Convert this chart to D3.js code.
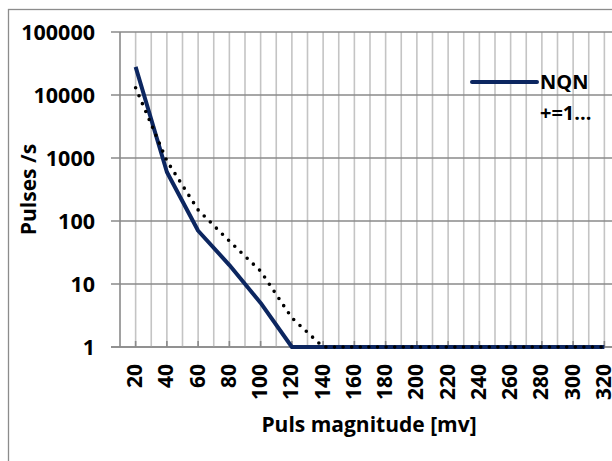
<!DOCTYPE html>
<html>
<head>
<meta charset="utf-8">
<script src="https://cdn.jsdelivr.net/npm/d3@7"></script>
<style>
  html, body { margin: 0; padding: 0; background: #fff; }
  svg { display: block; }
  text { font-family: "Open Sans", "Liberation Sans", sans-serif; font-weight: bold; fill: #000; }
</style>
</head>
<body>
<svg id="chart" width="612" height="461"></svg>
<script>
// Pulse-height spectrum: pulse rate per magnitude bin
const magnitudes = [20, 40, 60, 80, 100, 120, 140, 160, 180, 200, 220, 240, 260, 280, 300, 320];
const nqnRates   = [28000, 600, 70, 20, 5, 1, 1, 1, 1, 1, 1, 1, 1, 1, 1, 1];
const fitRates   = [13000, 900, 150, 48, 16, 2.9, 1, 1, 1, 1, 1, 1, 1, 1, 1, 1];
const yTicks     = [1, 10, 100, 1000, 10000, 100000];
const legendLines = ["NQN", "+=1..."];

const svg = d3.select("#chart");
const plot = { left: 120, right: 620, top: 32, bottom: 347 };

// chart frame (only the left and top edges fall inside the page)
svg.append("rect")
  .attr("x", 8.5).attr("y", 9.5)
  .attr("width", 640).attr("height", 480)
  .attr("fill", "none").attr("stroke", "#8c8c8c").attr("stroke-width", 1.3);

const x = d3.scaleBand().domain(magnitudes).range([plot.left, plot.right]).padding(0);
const cx = d => x(d) + x.bandwidth() / 2;
const y = d3.scaleLog().domain([1, 100000]).range([plot.bottom, plot.top]);

// vertical gridlines at category boundaries and centres
const vLines = [];
magnitudes.forEach(m => { vLines.push(x(m)); vLines.push(cx(m)); });
svg.append("g").selectAll("line").data(vLines.filter(v => v > plot.left)).join("line")
  .attr("x1", d => d).attr("x2", d => d)
  .attr("y1", plot.top).attr("y2", plot.bottom)
  .attr("stroke", "#c4c4c4").attr("stroke-width", 1.6);

// horizontal gridlines per decade (extend left as tick marks)
svg.append("g").selectAll("line").data(yTicks).join("line")
  .attr("x1", plot.left - 9).attr("x2", plot.right)
  .attr("y1", d => y(d)).attr("y2", d => y(d))
  .attr("stroke", "#8a8a8a").attr("stroke-width", 1.6);

// value axis line
svg.append("line")
  .attr("x1", plot.left).attr("x2", plot.left)
  .attr("y1", plot.top).attr("y2", plot.bottom)
  .attr("stroke", "#8a8a8a").attr("stroke-width", 1.6);

// category tick marks (inside, at centres)
svg.append("g").selectAll("line").data(magnitudes).join("line")
  .attr("x1", d => cx(d)).attr("x2", d => cx(d))
  .attr("y1", plot.bottom - 6).attr("y2", plot.bottom)
  .attr("stroke", "#8a8a8a").attr("stroke-width", 1.6);

// y tick labels
const yAxis = d3.axisLeft(y).tickValues(yTicks).tickFormat(d3.format("d")).tickSize(0).tickPadding(0);
const yg = svg.append("g").attr("transform", `translate(${plot.left - 25},0)`).call(yAxis);
yg.select(".domain").remove();
yg.selectAll("text")
  .attr("font-size", 21.5).attr("font-family", null).attr("fill", "#000")
  .attr("dy", "0.36em");

// x tick labels (rotated)
const xAxis = d3.axisBottom(x).tickSize(0).tickPadding(0);
const xg = svg.append("g").attr("transform", `translate(0,${plot.bottom})`).call(xAxis);
xg.select(".domain").remove();
xg.selectAll("text")
  .attr("font-size", 21).attr("font-family", null).attr("fill", "#000")
  .attr("text-anchor", "end")
  .attr("transform", "rotate(-90)")
  .attr("x", -17).attr("y", -1).attr("dy", "0.36em");

// series lines
const line = d3.line().x((d, i) => cx(magnitudes[i])).y(d => y(d));

svg.append("path").datum(nqnRates)
  .attr("d", line)
  .attr("fill", "none").attr("stroke", "#0c2660").attr("stroke-width", 4)
  .attr("stroke-linejoin", "round");

svg.append("path").datum(fitRates)
  .attr("d", line)
  .attr("fill", "none").attr("stroke", "#000").attr("stroke-width", 3.6)
  .attr("stroke-linecap", "round").attr("stroke-dasharray", "0 8.6");

// x-axis line drawn under the series
svg.append("line")
  .attr("x1", plot.left - 9).attr("x2", plot.right)
  .attr("y1", plot.bottom).attr("y2", plot.bottom)
  .attr("stroke", "#8a8a8a").attr("stroke-width", 1.6)
  .lower();

// axis titles
svg.append("text")
  .attr("transform", `translate(36,${(plot.top + plot.bottom) / 2}) rotate(-90)`)
  .attr("text-anchor", "middle").attr("font-size", 21)
  .text("Pulses /s");

svg.append("text")
  .attr("x", (plot.left + plot.right) / 2 - 1).attr("y", 432)
  .attr("text-anchor", "middle").attr("font-size", 21)
  .text("Puls magnitude [mv]");

// legend
const lg = svg.append("g");
lg.append("line")
  .attr("x1", 472).attr("x2", 537).attr("y1", 82).attr("y2", 82)
  .attr("stroke", "#0c2660").attr("stroke-width", 4).attr("stroke-linecap", "round");
lg.selectAll("text").data(legendLines).join("text")
  .attr("x", 540).attr("y", (d, i) => 89 + i * 31)
  .attr("font-size", 20)
  .text(d => d);
</script>
</body>
</html>
